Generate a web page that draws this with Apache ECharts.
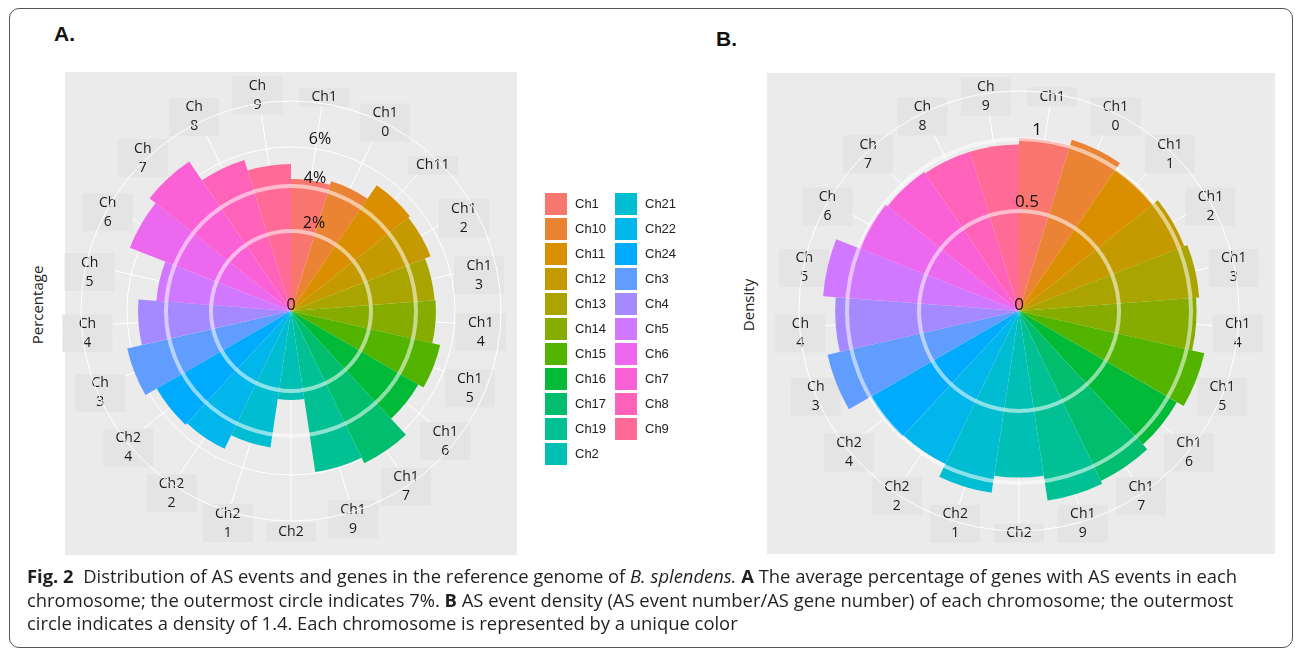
<!DOCTYPE html>
<html>
<head>
<meta charset="utf-8">
<title>Fig. 2</title>
<script src="https://cdn.jsdelivr.net/npm/echarts@6/dist/echarts.min.js"></script>
<style>
html, body { margin: 0; padding: 0; background: #fff; }
#wrap { position: relative; width: 1295px; height: 649px; overflow: hidden; font-family: 'Open Sans', sans-serif; }
.panel { position: absolute; background: #ebebeb; }
.tag { position: absolute; font-family: 'Liberation Sans', Arial, sans-serif; font-weight: bold; font-size: 21px; color: #111; }
.ytitle { position: absolute; transform: translate(-50%, -50%) rotate(-90deg); white-space: nowrap; font-size: 15px; color: #222; }
#chart { position: absolute; left: 0; top: 0; width: 1295px; height: 649px; }
#caption { position: absolute; left: 27px; top: 564px; font-size: 18.4px; line-height: 23.5px; color: #231f20; white-space: nowrap; }
#frame { position: absolute; left: 9px; top: 8px; width: 1284px; height: 640px; border: 1px solid #555; border-radius: 10px; box-sizing: border-box; }
</style>
</head>
<body>
<div id="wrap">
  <div class="panel" style="left:65px;top:72px;width:452px;height:483px"></div>
  <div class="panel" style="left:767px;top:73px;width:508px;height:481px"></div>
  <div class="tag" style="left:54px;top:22px">A.</div>
  <div class="tag" style="left:716px;top:27px">B.</div>
  <div class="ytitle" style="left:37px;top:305px">Percentage</div>
  <div class="ytitle" style="left:748px;top:305px">Density</div>
  <div id="chart"></div>
  <div id="caption">
    <b>Fig. 2</b>&nbsp; Distribution of AS events and genes in the reference genome of <i>B. splendens.</i> <b>A</b> The average percentage of genes with AS events in each<br>
    chromosome; the outermost circle indicates 7%. <b>B</b> AS event density (AS event number/AS gene number) of each chromosome; the outermost<br>
    circle indicates a density of 1.4. Each chromosome is represented by a unique color
  </div>
  <div id="frame"></div>
</div>
<script>
// 染色体 (legend order)
var chroms = ['Ch1', 'Ch10', 'Ch11', 'Ch12', 'Ch13', 'Ch14', 'Ch15', 'Ch16', 'Ch17', 'Ch19', 'Ch2',
              'Ch21', 'Ch22', 'Ch24', 'Ch3', 'Ch4', 'Ch5', 'Ch6', 'Ch7', 'Ch8', 'Ch9'];

// tick labels round each circle
var labelsA = ['Ch1', 'Ch1\n0', 'Ch11', 'Ch1\n2', 'Ch1\n3', 'Ch1\n4', 'Ch1\n5', 'Ch1\n6', 'Ch1\n7', 'Ch1\n9', 'Ch2',
               'Ch2\n1', 'Ch2\n2', 'Ch2\n4', 'Ch\n3', 'Ch\n4', 'Ch\n5', 'Ch\n6', 'Ch\n7', 'Ch\n8', 'Ch\n9'];
var labelsB = ['Ch1', 'Ch1\n0', 'Ch1\n1', 'Ch1\n2', 'Ch1\n3', 'Ch1\n4', 'Ch1\n5', 'Ch1\n6', 'Ch1\n7', 'Ch1\n9', 'Ch2',
               'Ch2\n1', 'Ch2\n2', 'Ch2\n4', 'Ch\n3', 'Ch\n4', 'Ch\n5', 'Ch\n6', 'Ch\n7', 'Ch\n8', 'Ch\n9'];

// A: percentage of genes with AS events (outermost circle = 7%)
var pctA = [4.40, 4.53, 5.07, 5.00, 4.80, 4.83, 5.10, 4.90, 5.63, 5.43, 2.97,
            4.60, 5.10, 5.17, 5.60, 5.10, 4.50, 5.77, 6.03, 5.27, 4.90];
// B: AS event density (outermost circle = 1.4)
var densB = [1.10, 1.14, 1.09, 1.13, 1.15, 1.13, 1.21, 1.16, 1.20, 1.22, 1.06,
             1.17, 1.08, 1.09, 1.25, 1.17, 1.25, 1.09, 1.07, 1.06, 1.06];

// ggplot hue palette
function hcl(h, c, l) {
    var hr = h * Math.PI / 180;
    var U = c * Math.cos(hr), V = c * Math.sin(hr);
    var Xn = 95.047, Yn = 100, Zn = 108.883;
    var un = 4 * Xn / (Xn + 15 * Yn + 3 * Zn), vn = 9 * Yn / (Xn + 15 * Yn + 3 * Zn);
    var Y = Yn * Math.pow((l + 16) / 116, 3);
    var u = U / (13 * l) + un, v = V / (13 * l) + vn;
    var X = Y * 9 * u / (4 * v), Z = Y * (12 - 3 * u - 20 * v) / (4 * v);
    X /= 100; Y /= 100; Z /= 100;
    var r = 3.240479 * X - 1.537150 * Y - 0.498535 * Z;
    var g = -0.969256 * X + 1.875992 * Y + 0.041556 * Z;
    var b = 0.055648 * X - 0.204043 * Y + 1.057311 * Z;
    function gam(t) {
        t = t <= 0.0031308 ? 12.92 * t : 1.055 * Math.pow(t, 1 / 2.4) - 0.055;
        return Math.round(Math.max(0, Math.min(1, t)) * 255);
    }
    return 'rgb(' + gam(r) + ',' + gam(g) + ',' + gam(b) + ')';
}
var colors = chroms.map(function (c, i) { return hcl(15 + i * 360 / chroms.length, 100, 65); });

var LABEL_W = 50, LINE_H = 19;
var polars = [], angleAxes = [], radiusAxes = [], series = [];

function addPolar(center, radius, angleCfg, radiusCfg) {
    var idx = polars.length;
    polars.push({ center: center, radius: radius });
    angleCfg.polarIndex = idx;
    radiusCfg.polarIndex = idx;
    angleAxes.push(angleCfg);
    radiusAxes.push(radiusCfg);
    return idx;
}

// one circle (with an optional label above it)
function addRing(center, r, opt) {
    var labelFmt = function (val, idx) {
        if (idx === 0) return opt.centerLabel ? '{z|' + opt.centerLabel + '}' : '';
        return opt.label || '';
    };
    addPolar(center, r,
        { type: 'value', show: false, startAngle: 90 },
        {
            type: 'value', min: 0, max: 1, interval: 1, z: opt.z,
            axisLine: { show: false }, axisTick: { show: false },
            splitLine: { show: true, lineStyle: { color: ['rgba(0,0,0,0)', opt.color], width: opt.width } },
            axisLabel: {
                show: !!(opt.label || opt.centerLabel), formatter: labelFmt,
                margin: -opt.dx, align: 'center', verticalAlign: 'bottom',
                color: '#111', fontFamily: 'Open Sans', fontSize: opt.fontSize,
                rich: { z: { fontFamily: 'Open Sans', fontSize: opt.fontSize, color: '#111', lineHeight: 12, padding: [0, 2 * opt.dx, 0, 0] } }
            }
        });
}

// centre each tick label at rho(t) from a point oy below the middle;
// the axis anchors labels by their near edge, so pad them outwards
function categoryItems(R, margin, labels, rho, oy) {
    var n = chroms.length, rr = (R + margin) / R;
    return chroms.map(function (name, i) {
        var t = (i + 0.5) * 2 * Math.PI / n;
        var sx = Math.sin(t), sy = -Math.cos(t), d = rho(t);
        var dx = d * sx - (R + margin) * sx;
        var dy = d * sy + oy - (R + margin) * sy;
        var w = LABEL_W, h = labels[i].split('\n').length * LINE_H;
        var pl = 0, pr = 0, pt = 0, pb = 0;
        if (Math.abs(sx) * rr < 0.3) { pl = Math.max(0, 2 * dx); pr = Math.max(0, -2 * dx); }
        else if (sx > 0) pl = Math.max(0, dx - w / 2);
        else pr = Math.max(0, -dx - w / 2);
        if (Math.abs(sy) * rr < 0.3) { pt = Math.max(0, 2 * dy); pb = Math.max(0, -2 * dy); }
        else if (sy > 0) pt = Math.max(0, dy - h / 2);
        else pb = Math.max(0, -dy - h / 2);
        return { value: name, textStyle: { padding: [pt, pr, pb, pl] } };
    });
}

function buildRose(center, R, maxVal, values, labels, rho, oy) {
    // background grid: spokes + outer circle
    addPolar(center, R,
        {
            type: 'category', data: chroms, startAngle: 90, clockwise: true, z: 0,
            axisLine: { show: true, lineStyle: { color: '#ffffff', width: 1 } },
            axisTick: { show: false, alignWithLabel: true },
            axisLabel: { show: false },
            splitLine: { show: true, lineStyle: { color: '#ffffff', width: 1 } }
        },
        { type: 'value', min: 0, max: 1, show: false });
    // bars
    var margin = -70;
    var p = addPolar(center, R,
        {
            type: 'category', data: categoryItems(R, margin, labels, rho, oy), startAngle: 90, clockwise: true,
            axisLine: { show: false }, axisTick: { show: false }, splitLine: { show: false },
            axisLabel: {
                show: true, interval: 0, margin: margin,
                formatter: function (v, i) {
                    return labels[i].split('\n').map(function (s) { return '{t|' + s + '}'; }).join('\n');
                },
                color: '#1a1a1a', fontFamily: 'Open Sans', fontSize: 14,
                rich: {
                    t: {
                        color: '#1a1a1a', fontFamily: 'Open Sans', fontSize: 14, lineHeight: LINE_H, height: LINE_H,
                        width: LABEL_W - 16, align: 'center', padding: [0, 8], backgroundColor: '#e4e4e4'
                    }
                }
            }
        },
        { type: 'value', min: 0, max: maxVal, show: false });
    chroms.forEach(function (name, i) {
        series.push({
            type: 'bar', coordinateSystem: 'polar', polarIndex: p, name: name, stack: 'rose' + p,
            barCategoryGap: '0%', silent: true,
            itemStyle: { color: colors[i] },
            data: values.map(function (v, j) { return j === i ? v : null; })
        });
    });
}

// A
var cA = [291, 311];
buildRose(cA, 210, 7, pctA, labelsA, function (t) {
    return 208.5 + 11 * Math.cos(2 * t) + 5.25 * Math.cos(t) - 7 * Math.sin(t);
}, 7);
addRing(cA, 164, { color: '#ffffff', width: 1, z: 0, label: '6%', dx: 29, fontSize: 16 });
addRing(cA, 80, { color: 'rgba(255,255,255,0.55)', width: 4, z: 10, label: '2%', centerLabel: '0', dx: 23, fontSize: 16 });
addRing(cA, 125, { color: 'rgba(255,255,255,0.55)', width: 4, z: 10, label: '4%', dx: 24, fontSize: 16 });

// B
var cB = [1019, 311];
buildRose(cB, 220, 1.4, densB, labelsB, function (t) {
    return 219.5 + 3.25 * Math.cos(t);
}, 6);
addRing(cB, 100, { color: 'rgba(255,255,255,0.55)', width: 4, z: 10, label: '0.5', centerLabel: '0', dx: 8, fontSize: 17 });
addRing(cB, 172, { color: 'rgba(255,255,255,0.55)', width: 4, z: 10, label: '1', dx: 18, fontSize: 17 });

var legendBase = {
    orient: 'vertical', itemWidth: 22, itemHeight: 22, itemGap: 3, icon: 'rect', selectedMode: false,
    textStyle: { fontFamily: 'Liberation Sans', fontSize: 13, color: '#222', padding: [0, 0, 0, 3] }
};

var chart = echarts.init(document.getElementById('chart'));
chart.setOption({
    animation: false,
    polar: polars,
    angleAxis: angleAxes,
    radiusAxis: radiusAxes,
    legend: [
        echarts.util.merge({ data: chroms.slice(0, 11), left: 540, top: 188 }, legendBase),
        echarts.util.merge({ data: chroms.slice(11), left: 610, top: 188 }, legendBase)
    ],
    series: series
});
</script>
</body>
</html>
